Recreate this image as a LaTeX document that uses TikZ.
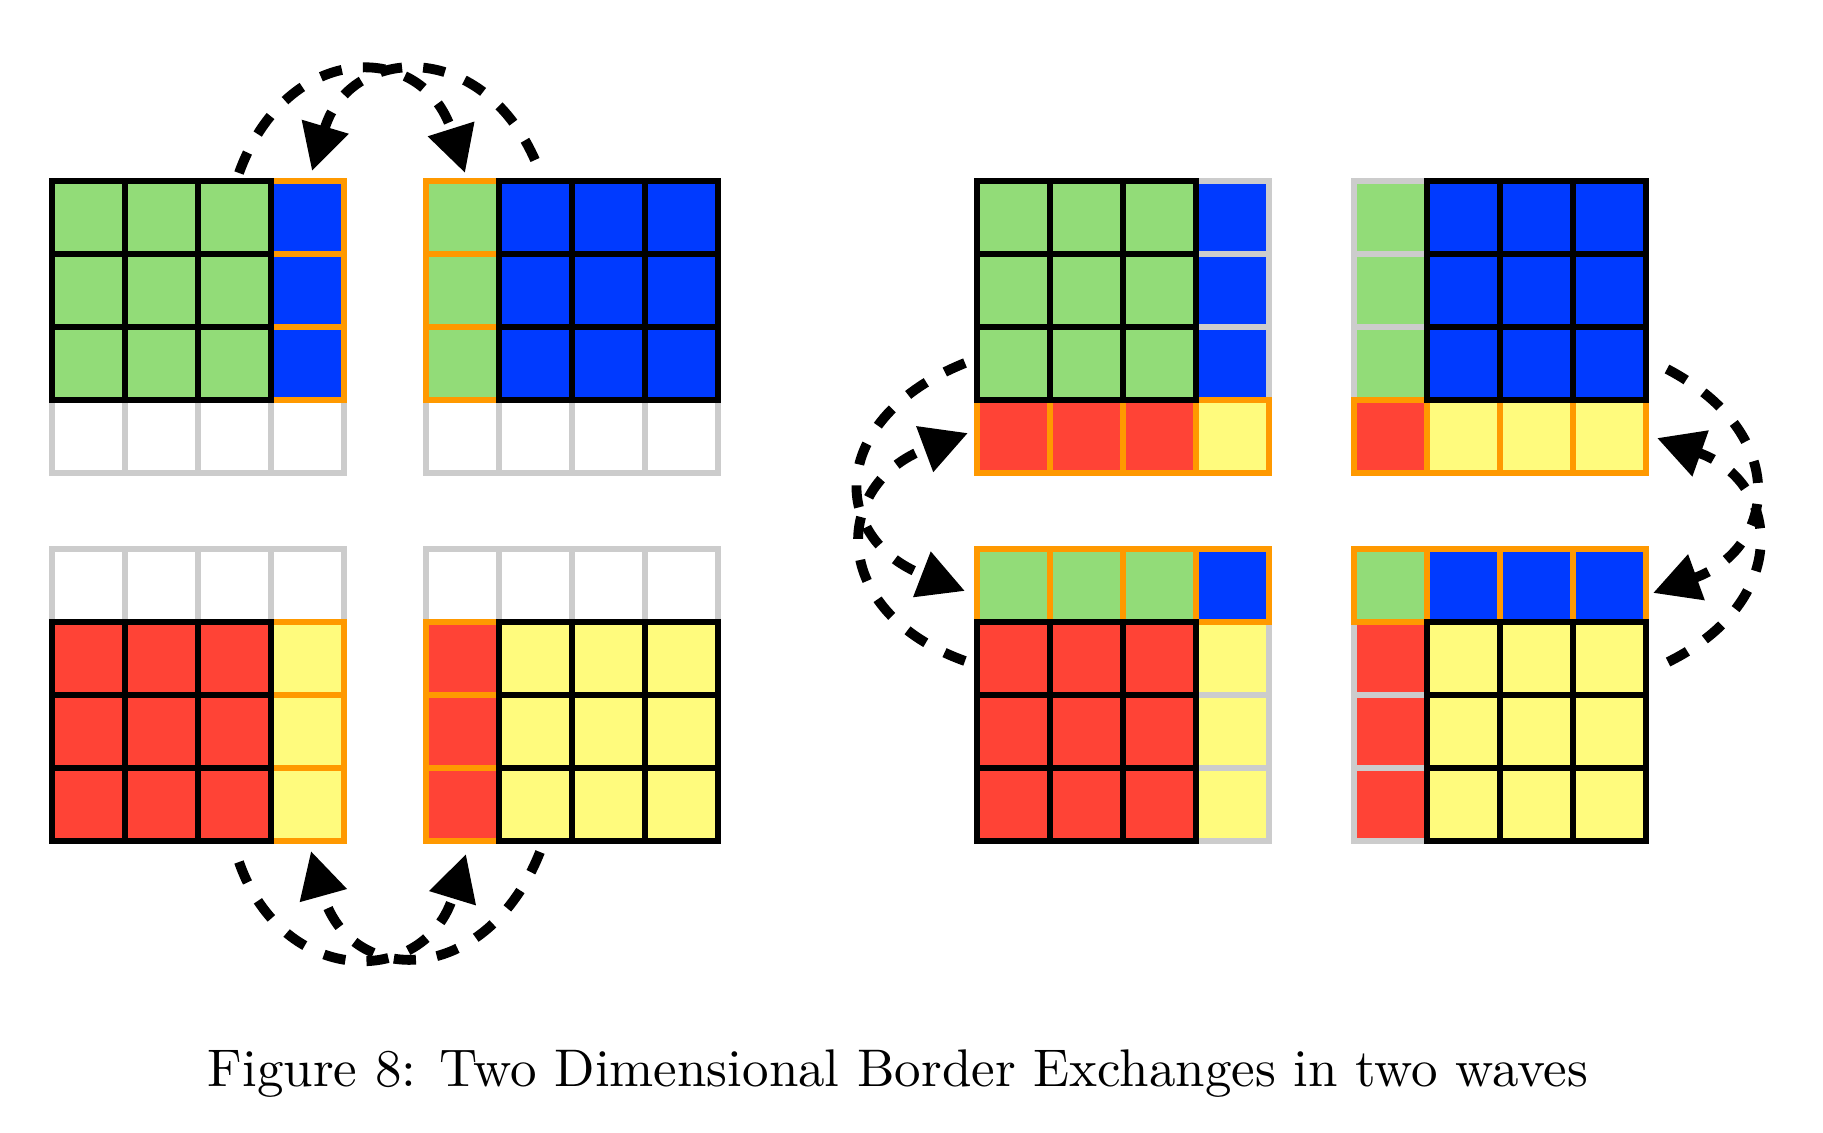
\documentclass[tikz,border=0pt]{standalone}
\usetikzlibrary{arrows.meta}
\definecolor{cgreen}{RGB}{146,220,120}
\definecolor{cblue}{RGB}{0,58,255}
\definecolor{cred}{RGB}{255,67,54}
\definecolor{cyellow}{RGB}{255,251,125}
\definecolor{corange}{RGB}{255,153,0}
\definecolor{cgray}{RGB}{204,204,204}
\tikzset{
  gl/.style={line width=1.22pt},
  arc/.style={line width=2pt, dash pattern=on 4.5pt off 4.3pt, -{Triangle[length=9.4pt,width=9.4pt]}},
}
\newcommand\cellfill[3]{\fill[#3] (#1*73,#2*73) rectangle ++(73,73);}
\newcommand\celldraw[3]{\draw[gl,#3] (#1*73,#2*73) rectangle ++(73,73);}
\begin{document}
\begin{tikzpicture}[x=0.2033pt,y=-0.2033pt]
\useasboundingbox (0,0) rectangle (1823,1132);
% ---------- left group ----------
% TL
\begin{scope}[shift={(52,181)}]
\foreach \i in {0,1,2} \foreach \j in {0,1,2} {\cellfill{\i}{\j}{cgreen}}
\foreach \j in {0,1,2} {\cellfill{3}{\j}{cblue}}
\foreach \i in {0,...,3} {\celldraw{\i}{3}{cgray}}
\foreach \j in {0,1,2} {\celldraw{3}{\j}{corange}}
\foreach \i in {0,1,2} \foreach \j in {0,1,2} {\celldraw{\i}{\j}{black}}
\end{scope}
% TR
\begin{scope}[shift={(426,181)}]
\foreach \j in {0,1,2} {\cellfill{0}{\j}{cgreen}}
\foreach \i in {1,2,3} \foreach \j in {0,1,2} {\cellfill{\i}{\j}{cblue}}
\foreach \i in {0,...,3} {\celldraw{\i}{3}{cgray}}
\foreach \j in {0,1,2} {\celldraw{0}{\j}{corange}}
\foreach \i in {1,2,3} \foreach \j in {0,1,2} {\celldraw{\i}{\j}{black}}
\end{scope}
% BL
\begin{scope}[shift={(52,549)}]
\foreach \i in {0,1,2} \foreach \j in {1,2,3} {\cellfill{\i}{\j}{cred}}
\foreach \j in {1,2,3} {\cellfill{3}{\j}{cyellow}}
\foreach \i in {0,...,3} {\celldraw{\i}{0}{cgray}}
\foreach \j in {1,2,3} {\celldraw{3}{\j}{corange}}
\foreach \i in {0,1,2} \foreach \j in {1,2,3} {\celldraw{\i}{\j}{black}}
\end{scope}
% BR
\begin{scope}[shift={(426,549)}]
\foreach \j in {1,2,3} {\cellfill{0}{\j}{cred}}
\foreach \i in {1,2,3} \foreach \j in {1,2,3} {\cellfill{\i}{\j}{cyellow}}
\foreach \i in {0,...,3} {\celldraw{\i}{0}{cgray}}
\foreach \j in {1,2,3} {\celldraw{0}{\j}{corange}}
\foreach \i in {1,2,3} \foreach \j in {1,2,3} {\celldraw{\i}{\j}{black}}
\end{scope}
% ---------- right group ----------
% RTL
\begin{scope}[shift={(977,181)}]
\foreach \i in {0,1,2} \foreach \j in {0,1,2} {\cellfill{\i}{\j}{cgreen}}
\foreach \j in {0,1,2} {\cellfill{3}{\j}{cblue}}
\foreach \i in {0,1,2} {\cellfill{\i}{3}{cred}}
\cellfill{3}{3}{cyellow}
\foreach \j in {0,1,2} {\celldraw{3}{\j}{cgray}}
\foreach \i in {0,...,3} {\celldraw{\i}{3}{corange}}
\foreach \i in {0,1,2} \foreach \j in {0,1,2} {\celldraw{\i}{\j}{black}}
\end{scope}
% RTR
\begin{scope}[shift={(1354,181)}]
\foreach \j in {0,1,2} {\cellfill{0}{\j}{cgreen}}
\foreach \i in {1,2,3} \foreach \j in {0,1,2} {\cellfill{\i}{\j}{cblue}}
\cellfill{0}{3}{cred}
\foreach \i in {1,2,3} {\cellfill{\i}{3}{cyellow}}
\foreach \j in {0,1,2} {\celldraw{0}{\j}{cgray}}
\foreach \i in {0,...,3} {\celldraw{\i}{3}{corange}}
\foreach \i in {1,2,3} \foreach \j in {0,1,2} {\celldraw{\i}{\j}{black}}
\end{scope}
% RBL
\begin{scope}[shift={(977,549)}]
\foreach \i in {0,1,2} {\cellfill{\i}{0}{cgreen}}
\cellfill{3}{0}{cblue}
\foreach \i in {0,1,2} \foreach \j in {1,2,3} {\cellfill{\i}{\j}{cred}}
\foreach \j in {1,2,3} {\cellfill{3}{\j}{cyellow}}
\foreach \j in {1,2,3} {\celldraw{3}{\j}{cgray}}
\foreach \i in {0,...,3} {\celldraw{\i}{0}{corange}}
\foreach \i in {0,1,2} \foreach \j in {1,2,3} {\celldraw{\i}{\j}{black}}
\end{scope}
% RBR
\begin{scope}[shift={(1354,549)}]
\cellfill{0}{0}{cgreen}
\foreach \i in {1,2,3} {\cellfill{\i}{0}{cblue}}
\foreach \j in {1,2,3} {\cellfill{0}{\j}{cred}}
\foreach \i in {1,2,3} \foreach \j in {1,2,3} {\cellfill{\i}{\j}{cyellow}}
\foreach \j in {1,2,3} {\celldraw{0}{\j}{cgray}}
\foreach \i in {0,...,3} {\celldraw{\i}{0}{corange}}
\foreach \i in {1,2,3} \foreach \j in {1,2,3} {\celldraw{\i}{\j}{black}}
\end{scope}
% ---------- arc end points ----------
\coordinate (bS) at (239,173);  \coordinate (bE) at (465,173);
\coordinate (aS) at (535,160);  \coordinate (aE) at (312,171);
\coordinate (cS) at (239,862);  \coordinate (cE) at (466,854);
\coordinate (dS) at (540,852);  \coordinate (dE) at (311,851);
\coordinate (eS) at (965,363);  \coordinate (eE) at (965,591);
\coordinate (fS) at (965,661);  \coordinate (fE) at (968,433);
\coordinate (gS) at (1667,369); \coordinate (gE) at (1653,593);
\coordinate (hS) at (1668,662); \coordinate (hE) at (1657,438);
% ---------- arcs ----------
\draw[arc] (bS) .. controls (287,40) and (423,40) .. (bE);
\draw[arc] (aS) .. controls (480,36) and (349,47) .. (aE);
\draw[arc] (cS) .. controls (283,988) and (425,988) .. (cE);
\draw[arc] (dS) .. controls (486,988) and (349,988) .. (dE);
\draw[arc] (eS) .. controls (828,418) and (828,538) .. (eE);
\draw[arc] (fS) .. controls (828,612) and (831,484) .. (fE);
\draw[arc] (gS) .. controls (1791,434) and (1777,548) .. (gE);
\draw[arc] (hS) .. controls (1792,601) and (1781,482) .. (hE);
% ---------- caption ----------
\node[anchor=base,inner sep=0pt,font=\fontsize{10.77pt}{13pt}\selectfont] (cap) at (898,1086) {Figure 8: Two Dimensional Border Exchanges in two waves};
\end{tikzpicture}
\end{document}
